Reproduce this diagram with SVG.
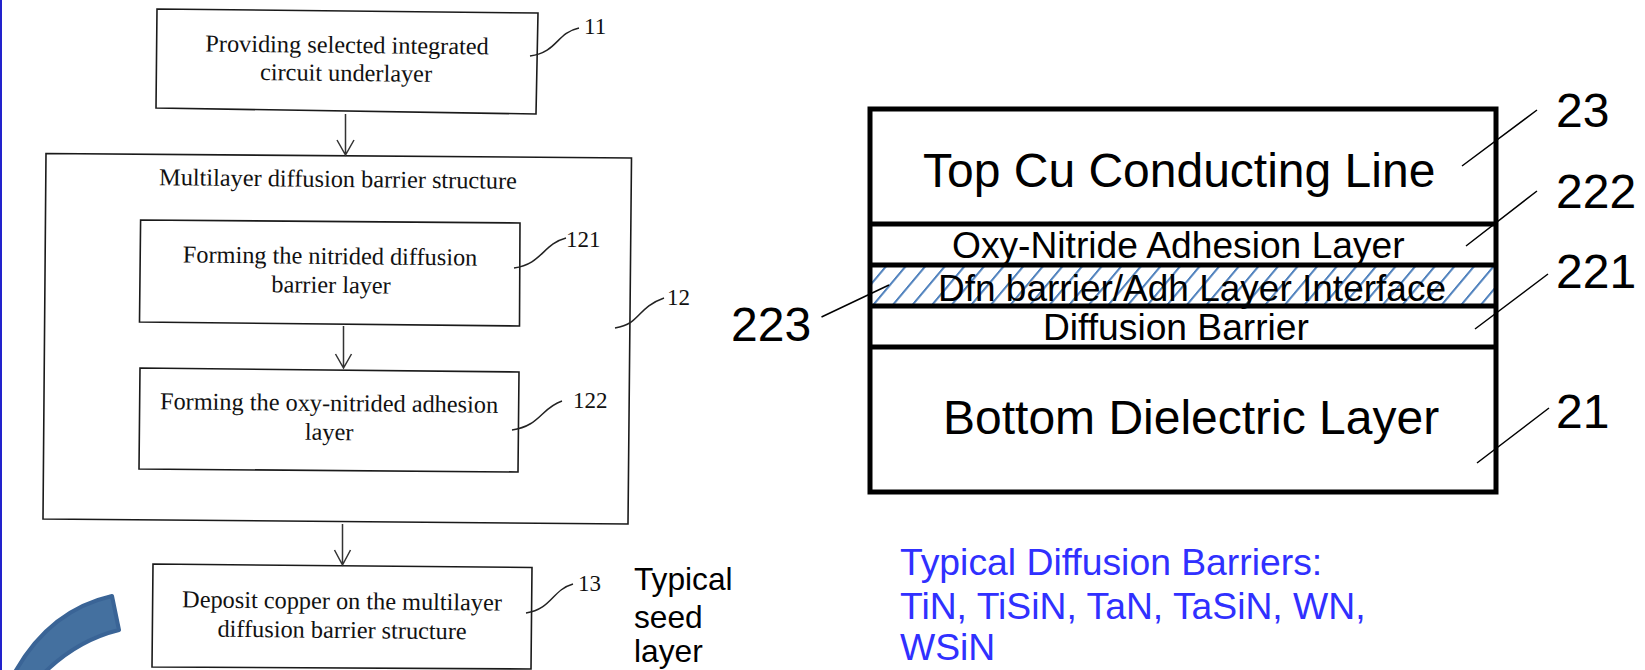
<svg xmlns="http://www.w3.org/2000/svg" width="1645" height="670" viewBox="0 0 1645 670">
<style>
.box{fill:none;stroke:#1a1a1a;stroke-width:1.6}
.scan{font-family:"Liberation Serif","Times New Roman",serif;font-size:24.300px;fill:#111;text-anchor:middle}
.num{font-family:"Liberation Serif","Times New Roman",serif;font-size:23px;fill:#111}
.sq{fill:none;stroke:#222;stroke-width:1.5}
.conn{fill:none;stroke:#333;stroke-width:1.5}
.ar{font-family:"Liberation Sans",Arial,sans-serif;fill:#000}
.lead{stroke:#000;stroke-width:1.5;fill:none}
.thick{stroke:#000;stroke-width:5;fill:none}
.blue{font-family:"Liberation Sans",Arial,sans-serif;font-size:37.300px;fill:#3030ff}
</style>
<defs>
<clipPath id="hc"><rect x="870" y="266" width="626" height="41"/></clipPath>
<pattern id="hatch" patternUnits="userSpaceOnUse" width="19.6" height="40" x="873" y="266.5" patternTransform="skewX(-40)">
<rect x="0" y="0" width="2.600" height="40" fill="#4f81bd"/>
</pattern>
</defs>
<rect width="1645" height="670" fill="#fff"/>
<rect id="edge" x="0" y="0" width="2" height="670" fill="#2222cc"/>

<g id="n11">
<polygon class="box" points="157,9 538,13 536,114 156,108"/>
<text class="scan" transform="rotate(.6 347 53)" x="347" y="53">Providing selected integrated</text>
<text class="scan" transform="rotate(.6 346 81)" x="346" y="81">circuit underlayer</text>
<path class="sq" d="M530,56C558,52 556,33 579,28"/>
<text class="num" x="584" y="34">11</text>
</g>
<g id="n12">
<polygon class="box" points="46,153.5 631.5,158 628,524 43,519"/>
<text class="scan" transform="rotate(.6 338 187)" x="338" y="187">Multilayer diffusion barrier structure</text>
<path class="sq" d="M615,328C642,323 636,308 664,298"/>
<text class="num" x="667" y="305">12</text>
</g>
<g id="n121">
<polygon class="box" points="140.6,220 520,223 519.500,326 139.500,322"/>
<text class="scan" transform="rotate(.6 330 264)" x="330" y="264">Forming the nitrided diffusion</text>
<text class="scan" transform="rotate(.6 331 293)" x="331" y="293">barrier layer</text>
<path class="sq" d="M514,268C542,264 543,244 566,238"/>
<text class="num" x="566" y="247">121</text>
</g>
<g id="n122">
<polygon class="box" points="140,368 519,372 518,472 139,469"/>
<text class="scan" transform="rotate(.6 329 411)" x="329" y="411">Forming the oxy-nitrided adhesion</text>
<text class="scan" transform="rotate(.6 329 440)" x="329" y="440">layer</text>
<path class="sq" d="M512,430C540,426 541,408 562,401"/>
<text class="num" x="573" y="408">122</text>
</g>
<g id="n13">
<polygon class="box" points="153,564 532,567.500 531,669 152,667"/>
<text class="scan" transform="rotate(.6 342 609)" x="342" y="609">Deposit copper on the multilayer</text>
<text class="scan" transform="rotate(.6 342 638)" x="342" y="638">diffusion barrier structure</text>
<path class="sq" d="M526,613C552,609 552,590 573,584"/>
<text class="num" x="578" y="591">13</text>
</g>
<g id="connectors">
<path class="conn" d="M345.500,114V155M337,140L345.500,155L354,140"/>
<path class="conn" d="M343.500,326V368M335.500,354L343.500,368L351.500,354"/>
<path class="conn" d="M342.500,524V565M334.500,550L342.500,565L350.500,550"/>
</g>

<g id="seed"><text class="ar" font-size="31.700" x="634" y="590">Typical</text><text class="ar" font-size="31.700" x="634" y="628">seed</text><text class="ar" font-size="31.700" x="634" y="662">layer</text></g>

<g id="arc">
<path d="M112,596Q50,610 15,672L45,672Q78,640 119,630Z" fill="#44709f" stroke="#3a6496" stroke-width="4" stroke-linejoin="round"/>
</g>

<g id="stack">
<rect x="870" y="266" width="626" height="40" fill="url(#hatch)" clip-path="url(#hc)"/>
<rect class="thick" x="870" y="109" width="626" height="383"/>
<path class="thick" d="M870,224H1496M870,265H1496M870,306H1496M870,347H1496"/>
<text class="ar" font-size="48" x="923" y="187">Top Cu Conducting Line</text>
<text class="ar" font-size="37.200" x="952" y="258">Oxy-Nitride Adhesion Layer</text>
<text class="ar" font-size="37" x="938" y="301">Dfn barrier/Adh Layer Interface</text>
<text class="ar" font-size="37.200" x="1043" y="340">Diffusion Barrier</text>
<text class="ar" font-size="48" x="943" y="434">Bottom Dielectric Layer</text>
</g>
<g id="labels">
<path class="lead" d="M1537,110L1462,166M1537,191L1466,246M1548,274L1475,329M1549,408L1477,463M821.500,317L889,285"/>
<text class="ar" font-size="48" x="1556" y="127">23</text>
<text class="ar" font-size="48" x="1556" y="208">222</text>
<text class="ar" font-size="48" x="1556" y="288">221</text>
<text class="ar" font-size="48" x="1556" y="428">21</text>
<text class="ar" font-size="48" x="731" y="341">223</text>
</g>
<g id="barriers">
<text class="blue" x="900" y="575">Typical Diffusion Barriers:</text>
<text class="blue" x="900" y="619">TiN, TiSiN, TaN, TaSiN, WN,</text>
<text class="blue" x="900" y="660">WSiN</text>
</g>
</svg>
